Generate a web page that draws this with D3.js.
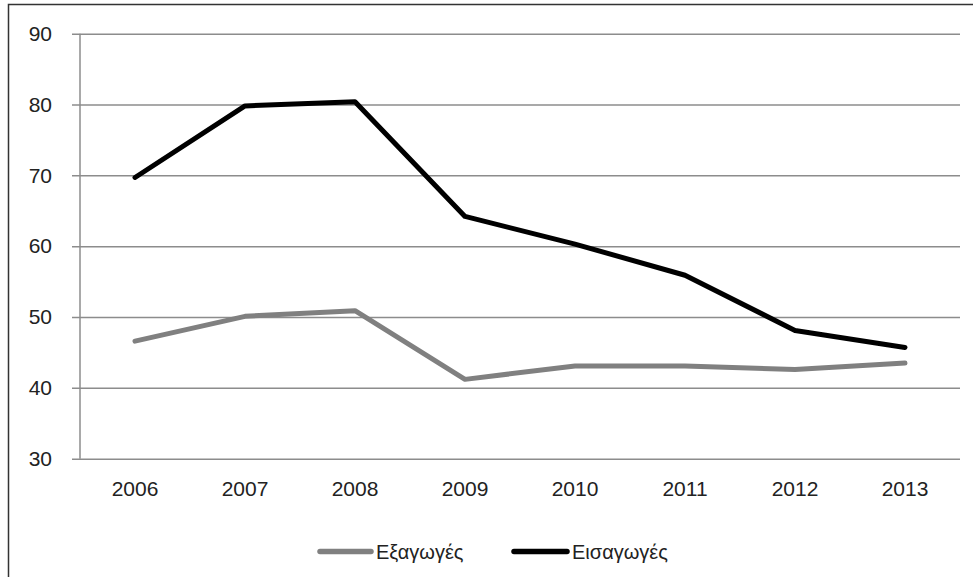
<!DOCTYPE html>
<html>
<head>
<meta charset="utf-8">
<script src="https://cdn.jsdelivr.net/npm/d3@7"></script>
<style>
  html, body { margin: 0; padding: 0; background: #fff; }
  svg { display: block; }
</style>
</head>
<body>
<svg id="chart" width="973" height="577"></svg>
<script>
const years = ["2006", "2007", "2008", "2009", "2010", "2011", "2012", "2013"];
const exportsVals = [46.6, 50.1, 50.9, 41.2, 43.1, 43.1, 42.6, 43.5];
const importsVals = [69.7, 79.8, 80.4, 64.2, 60.3, 55.9, 48.1, 45.7];
const yTicks = [30, 40, 50, 60, 70, 80, 90];
const seriesNames = ["Εξαγωγές", "Εισαγωγές"];
const seriesColors = ["#808080", "#000000"];

(function () {
const svg = d3.select("#chart");
const font = "'Liberation Sans', Helvetica, Arial, sans-serif";

// outer frame
svg.append("rect")
  .attr("x", 8.5).attr("y", 4.5)
  .attr("width", 975).attr("height", 600)
  .attr("fill", "none").attr("stroke", "#333").attr("stroke-width", 1.5);

const pLeft = 80, pRight = 960, pTop = 33.7, pBottom = 458.7;
const x = d3.scaleBand().domain(years).range([pLeft, pRight]);
const y = d3.scaleLinear().domain([30, 90]).range([pBottom, pTop]);

// gridlines + y ticks
const yAxis = d3.axisLeft(y).tickValues(yTicks).tickSize(-(pRight - pLeft)).tickSizeOuter(0).tickPadding(20);
const gy = svg.append("g").attr("transform", `translate(${pLeft},0)`).call(yAxis);
gy.select(".domain").remove();
gy.selectAll(".tick line")
  .attr("x1", -8)
  .attr("stroke", "#8c8c8c").attr("stroke-width", 1.5);
gy.selectAll(".tick text")
  .attr("x", -28)
  .attr("fill", "#222").style("font-family", font).style("font-size", "21px");

// y axis vertical line
svg.append("line")
  .attr("x1", pLeft).attr("x2", pLeft)
  .attr("y1", pTop).attr("y2", pBottom)
  .attr("stroke", "#8c8c8c").attr("stroke-width", 1.5);

// x axis labels
const xAxis = d3.axisBottom(x).tickSize(0).tickPadding(22);
const gx = svg.append("g").attr("transform", `translate(0,${pBottom})`).call(xAxis);
gx.select(".domain").remove();
gx.selectAll(".tick text")
  .attr("fill", "#222").style("font-family", font).style("font-size", "21px");

// lines
const line = d3.line()
  .x((d, i) => x(years[i]) + x.bandwidth() / 2)
  .y(d => y(d));

[exportsVals, importsVals].forEach((vals, k) => {
  svg.append("path")
    .datum(vals)
    .attr("d", line)
    .attr("fill", "none")
    .attr("stroke", seriesColors[k])
    .attr("stroke-width", 5)
    .attr("stroke-linejoin", "round")
    .attr("stroke-linecap", "round");
});

// legend
const legendY = 551.5;
const legendPos = [{x1: 320, x2: 371, tx: 376}, {x1: 514, x2: 567, tx: 572}];
seriesNames.forEach((name, k) => {
  const p = legendPos[k];
  svg.append("line")
    .attr("x1", p.x1).attr("x2", p.x2)
    .attr("y1", legendY).attr("y2", legendY)
    .attr("stroke", seriesColors[k]).attr("stroke-width", 5.5)
    .attr("stroke-linecap", "round");
  svg.append("text")
    .attr("x", p.tx).attr("y", legendY)
    .attr("dy", "0.35em")
    .attr("fill", "#222")
    .style("font-family", font).style("font-size", "20px")
    .text(name);
});
})();
</script>
</body>
</html>
